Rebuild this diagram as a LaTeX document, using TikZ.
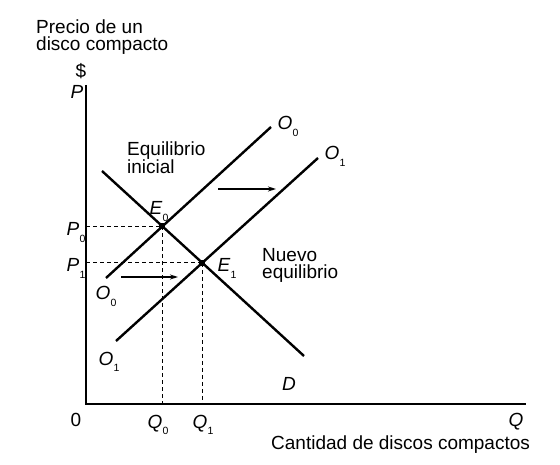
\documentclass[tikz,border=0pt]{standalone}
\usepackage{fontspec}
\setmainfont{Liberation Sans}
\usetikzlibrary{arrows.meta}
\newcommand{\lsub}[2]{\textit{#1}\kern0.3pt\raisebox{-0.32em}{\fontsize{10.5}{10.5}\selectfont #2}}
\begin{document}
\begin{tikzpicture}[x=1pt,y=-1pt,
  lbl/.style={font=\fontsize{19}{20}\selectfont, inner sep=0pt, anchor=base},
  txt/.style={font=\fontsize{19}{17.5}\selectfont, inner sep=0pt, anchor=base west, align=left},
  curve/.style={line width=2.4pt},
  axis/.style={line width=1.8pt},
  guide/.style={line width=1.3pt, dash pattern=on 4pt off 3pt},
  shiftarrow/.style={line width=1.3pt, -{Stealth[length=8pt,width=5pt]}},
  dot/.style={fill=black, rectangle, minimum size=6pt, inner sep=0pt}]
\useasboundingbox (0,0) rectangle (560,465);
% axes
\coordinate (otop) at (86,85);
\coordinate (orig) at (86,404);
\coordinate (xend) at (526,404);
\draw[axis] (otop) -- (orig) -- (xend);
% curves
\coordinate (d0) at (102,171);
\coordinate (d1) at (304,356);
\coordinate (a0) at (106,278);
\coordinate (b0) at (271,127);
\coordinate (a1) at (116,341);
\coordinate (b1) at (318,158);
\draw[curve] (d0) -- (d1);
\draw[curve] (a0) -- (b0);
\draw[curve] (a1) -- (b1);
% equilibria
\node[dot] (e0) at (intersection of d0--d1 and a0--b0) {};
\node[dot] (e1) at (intersection of d0--d1 and a1--b1) {};
\coordinate (p0ax) at (orig |- e0);
\coordinate (p1ax) at (orig |- e1);
\coordinate (q0ax) at (e0 |- orig);
\coordinate (q1ax) at (e1 |- orig);
\draw[guide] (p0ax) -- (e0.center);
\draw[guide] (p1ax) -- (e1.center);
\draw[guide] (e0.center) -- (q0ax);
\draw[guide] (e1.center) -- (q1ax);
% shift arrows
\coordinate (ua0) at (218,189);
\coordinate (ua1) at (276,189);
\coordinate (la0) at (121,277);
\coordinate (la1) at (178,277);
\draw[shiftarrow] (ua0) -- (ua1);
\draw[shiftarrow] (la0) -- (la1);
% texts
\node[txt] (t1) at (36,51) {Precio de un\\disco compacto};
\node[lbl] (dol) at (81,78) {\$};
\node[lbl] (pax) at (77,99) {\textit{P}};
\node[lbl] (p0l) at (76,236) {\lsub{P}{0}};
\node[lbl] (p1l) at (76,272) {\lsub{P}{1}};
\node[lbl] (zero) at (76,426) {0};
\node[lbl] (q0l) at (158,428) {\lsub{Q}{0}};
\node[lbl] (q1l) at (203,428) {\lsub{Q}{1}};
\node[lbl] (qax) at (516,426) {\textit{Q}};
\node[txt] (xlab) at (271,449) {Cantidad de discos compactos};
\node[lbl] (e0l) at (159,215) {\lsub{E}{0}};
\node[lbl] (e1l) at (227,272) {\lsub{E}{1}};
\node[lbl] (o0u) at (288,130) {\lsub{O}{0}};
\node[lbl] (o1u) at (335,160) {\lsub{O}{1}};
\node[lbl] (o0d) at (106,300) {\lsub{O}{0}};
\node[lbl] (o1d) at (109,365) {\lsub{O}{1}};
\node[lbl] (dl) at (289,390) {\textit{D}};
\node[txt] (ei) at (127,174) {Equilibrio\\inicial};
\node[txt] (ne) at (262,279) {Nuevo\\equilibrio};
\end{tikzpicture}
\end{document}
